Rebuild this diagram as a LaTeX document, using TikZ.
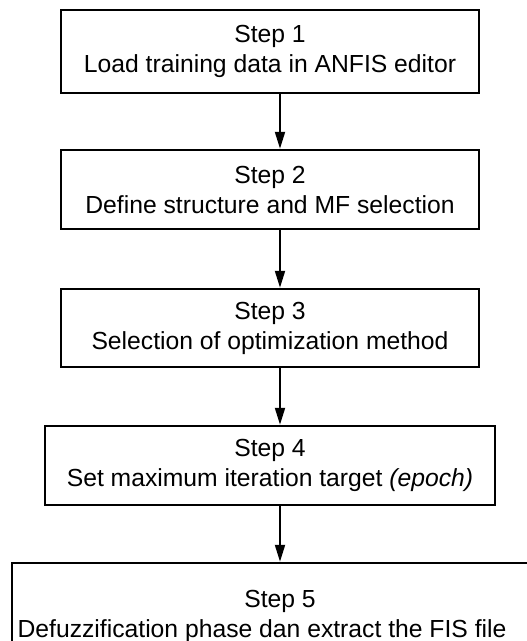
\documentclass[tikz,border=0pt]{standalone}
\usepackage{fontspec}
\setmainfont{Liberation Sans}
\usetikzlibrary{arrows.meta}
\begin{document}
\begin{tikzpicture}[x=1pt,y=-1pt,
  stepbox/.style={draw=black, line width=2.5pt, rectangle, align=center, inner sep=0pt,
    font=\fontsize{24.7}{30}\selectfont},
  flowarrow/.style={draw=black, line width=2pt, -{Triangle[length=17pt,width=10pt]}}]
\clip (0,0) rectangle (527,641);
\useasboundingbox (0,0) rectangle (527,641);
\fill[white] (0,0) rectangle (527,641);
\node[stepbox, minimum width=418pt, minimum height=83pt] (s1) at (270,51.5)
  {Step 1\\Load training data in ANFIS editor};
\node[stepbox, minimum width=418pt, minimum height=79pt] (s2) at (270,189.5)
  {Step 2\\Define structure and MF selection};
\node[stepbox, minimum width=418pt, minimum height=78pt] (s3) at (270,328)
  {Step 3\\Selection of optimization method};
\node[stepbox, minimum width=450pt, minimum height=79pt] (s4) at (270,465.5)
  {Step 4\\Set maximum iteration target \textit{(epoch)}};
\node[stepbox, minimum width=536pt, minimum height=106pt] (s5) at (280,616)
  {Step 5\\Defuzzification phase dan extract the FIS file\hspace*{36pt}};
\draw[flowarrow] ([xshift=10pt]s1.south) -- ([xshift=10pt]s2.north);
\draw[flowarrow] ([xshift=10pt]s2.south) -- ([xshift=10pt]s3.north);
\draw[flowarrow] ([xshift=10pt]s3.south) -- ([xshift=10pt]s4.north);
\draw[flowarrow] ([xshift=10pt]s4.south) -- (s5.north);
\end{tikzpicture}
\end{document}
